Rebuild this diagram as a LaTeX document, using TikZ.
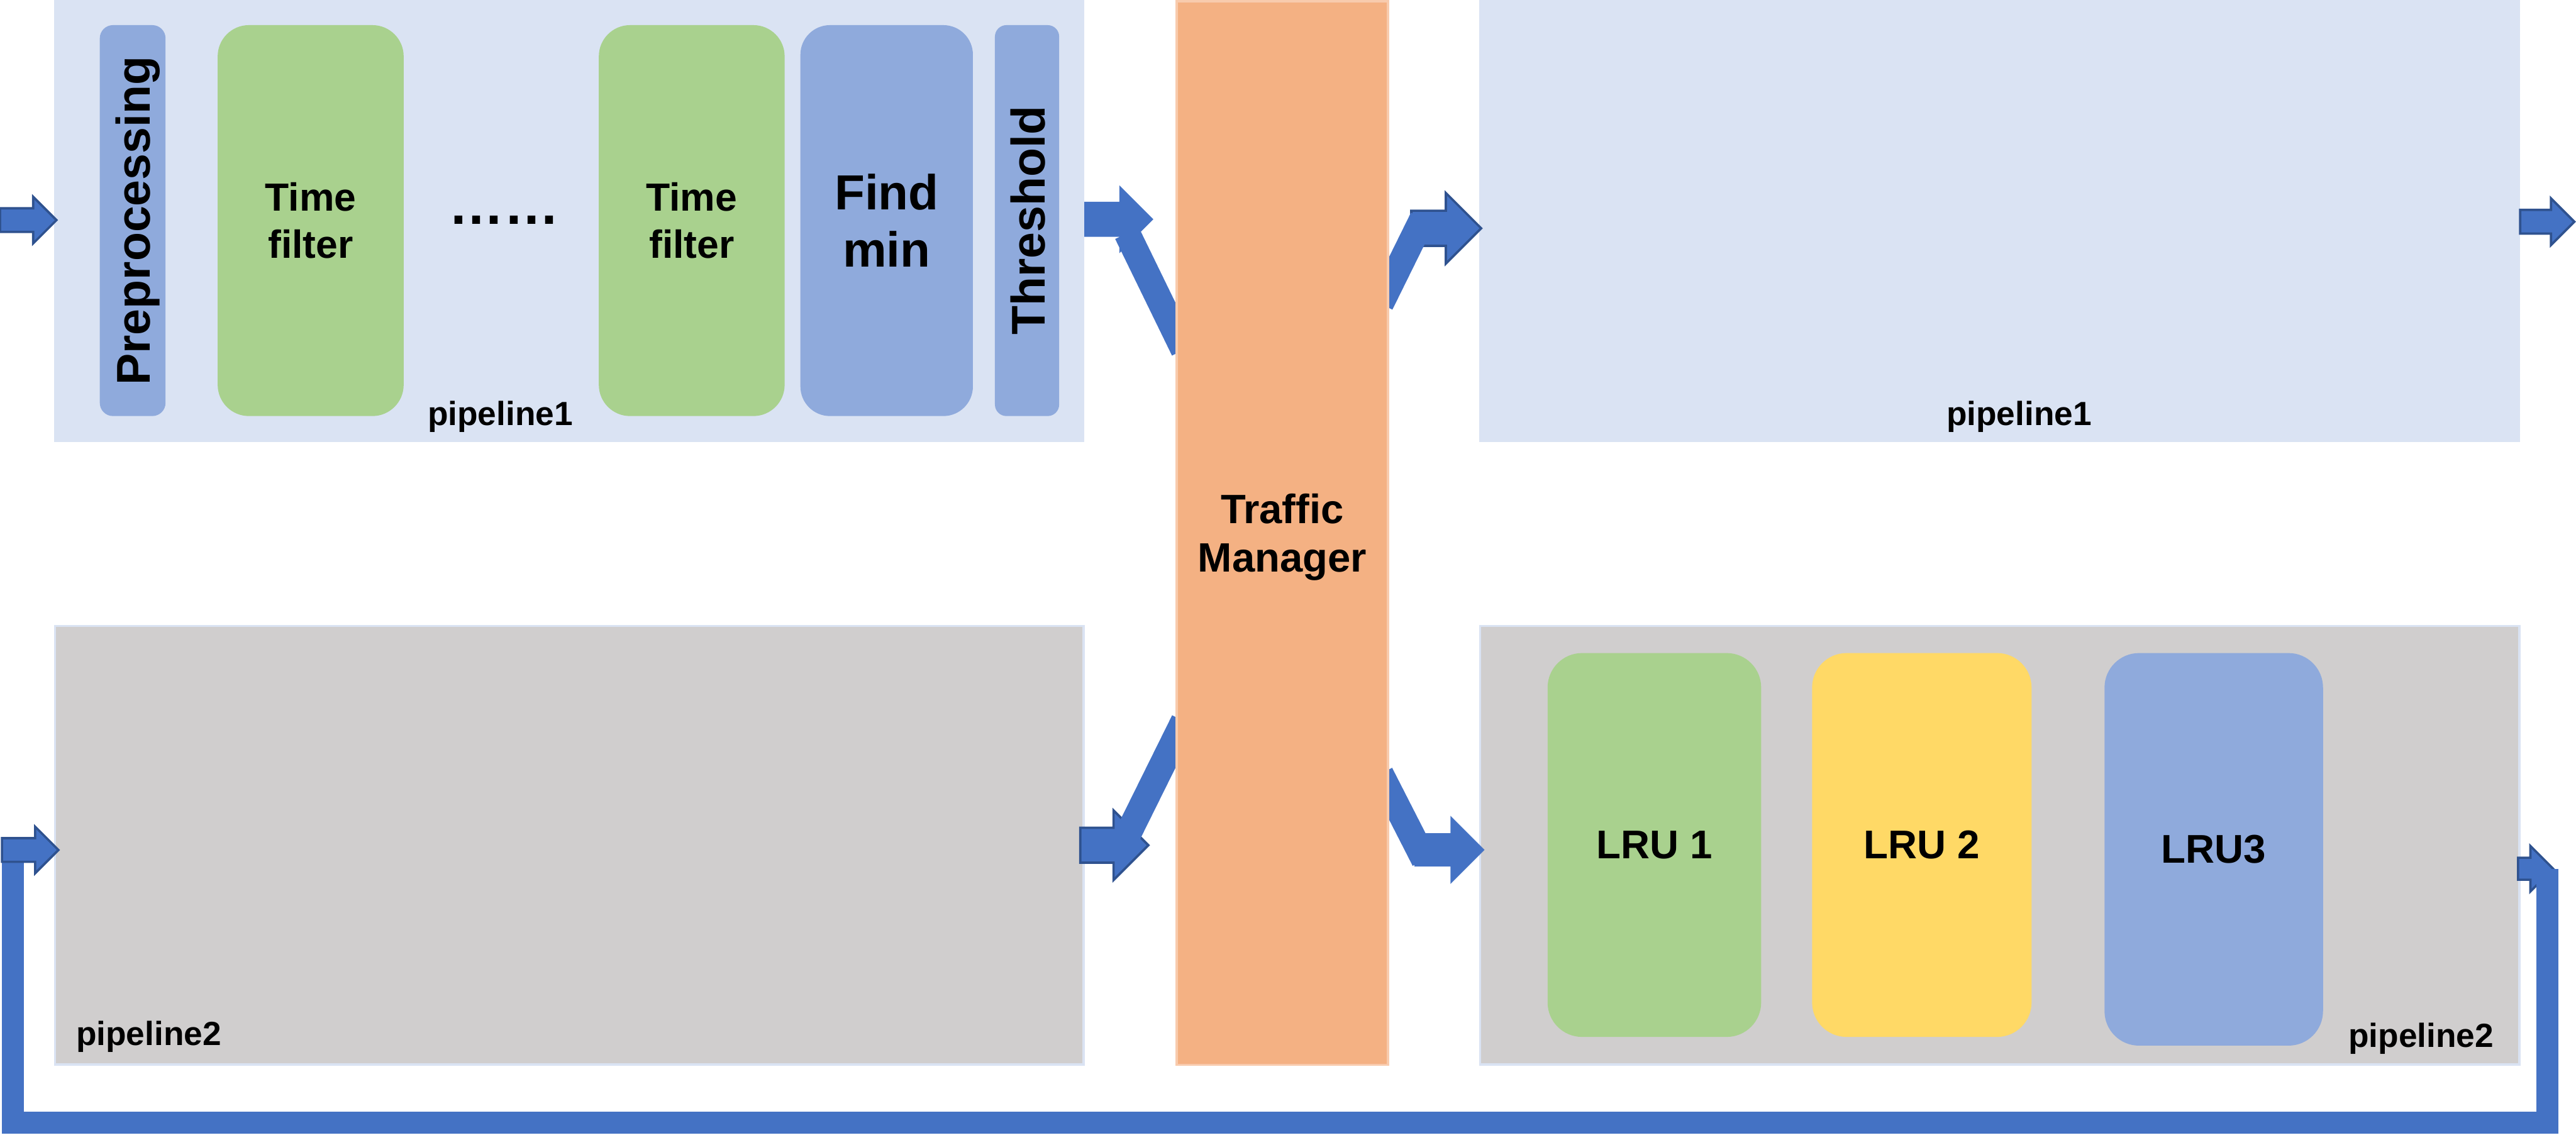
\documentclass[tikz,border=0pt]{standalone}
\usepackage{fontspec}
\setmainfont{Liberation Sans}
\usetikzlibrary{shapes.arrows}

\definecolor{paneblue}{HTML}{DAE3F3}
\definecolor{panegray}{HTML}{D0CECE}
\definecolor{stageblue}{HTML}{8FAADC}
\definecolor{stagegreen}{HTML}{A9D18E}
\definecolor{stageyellow}{HTML}{FFD966}
\definecolor{tmorange}{HTML}{F4B183}
\definecolor{tmedge}{HTML}{F8CBAD}
\definecolor{flowblue}{HTML}{4472C4}
\definecolor{flowedge}{HTML}{2F528F}

\pgfdeclarelayer{front}
\pgfsetlayers{main,front}

\tikzset{
  pane/.style={inner sep=0pt, outer sep=0pt},
  stage/.style={inner sep=0pt, outer sep=0pt, rounded corners=9.5mm, align=center},
  slim/.style={stage, rounded corners=4mm},
  vlabel/.style={rotate=90, inner sep=0pt, font=\bfseries\fontsize{41}{49}\selectfont},
  plabel/.style={inner sep=0pt, anchor=base, font=\bfseries\fontsize{29}{35}\selectfont},
  flow/.style n args={3}{single arrow, anchor=tail, fill=flowblue, inner xsep=0pt,
    inner ysep=#2, single arrow head extend=#3, minimum height=#1,
    minimum width=0pt, outer sep=0pt},
  rim/.style={draw=flowedge, line width=2pt},
  band/.style={draw=flowblue, line width=8mm},
  loopbar/.style={draw=flowblue, line width=6.75mm}
}

\begin{document}
\begin{tikzpicture}[x=0.5mm, y=-0.5mm]
  % one unit = one pixel of the sketch, y grows downwards
  \def\u{0.5mm}
  \def\sh{238}
  \useasboundingbox (0,0) rectangle (1568,697);

  % --- Pipeline panels ---
  \node[pane, fill=paneblue, minimum width=627*\u, minimum height=269*\u] (pipeA) at (346.5,134.5) {};
  \node[pane, fill=paneblue, minimum width=633.5*\u, minimum height=269*\u] (pipeB) at (1217.25,134.5) {};
  \node[pane, fill=panegray, draw=paneblue, line width=2pt, minimum width=626*\u, minimum height=267*\u] (pipeC) at (346.5,514.6) {};
  \node[pane, fill=panegray, draw=paneblue, line width=2pt, minimum width=632.5*\u, minimum height=267*\u] (pipeD) at (1217.25,514.6) {};

  % --- Stages of pipeline1 ---
  \node[slim, fill=stageblue, minimum width=40*\u, minimum height=\sh*\u] (prep) at (80.75,134.3) {};
  \node[vlabel] (prepTxt) at (83.8,134.4) {Preprocessing};
  \node[stage, fill=stagegreen, minimum width=113.2*\u, minimum height=\sh*\u,
    font=\bfseries\fontsize{34}{40.5}\selectfont] (tfA) at (189.1,134.3) {Time\\filter};
  \node[inner sep=0pt, anchor=base, font=\bfseries\fontsize{48}{56}\selectfont] (dots) at (307,136.5) {……};
  \node[stage, fill=stagegreen, minimum width=113.1*\u, minimum height=\sh*\u,
    font=\bfseries\fontsize{34}{40.5}\selectfont] (tfB) at (421.05,134.3) {Time\\filter};
  \node[stage, rounded corners=9mm, fill=stageblue, minimum width=105*\u, minimum height=\sh*\u,
    font=\bfseries\fontsize{42.7}{49.4}\selectfont] (fmin) at (539.7,134.3) {Find\\min};
  \node[slim, rounded corners=3.5mm, fill=stageblue, minimum width=39.1*\u, minimum height=\sh*\u] (thr) at (625.15,134.3) {};
  \node[vlabel] (thrTxt) at (625.6,134.2) {Threshold};

  % --- LRU stages of pipeline2 ---
  \foreach \n/\x/\y/\w/\h/\c/\t in {A/1007/514.45/130/233.7/stagegreen/LRU 1,
                                    B/1169.8/514.45/133.6/233.7/stageyellow/LRU 2,
                                    C/1347.5/517.1/133/239/stageblue/LRU3}
    \node[stage, rounded corners=10.5mm, fill=\c, minimum width=\w*\u, minimum height=\h*\u,
      font=\bfseries\fontsize{34.7}{41}\selectfont] (lru\n) at (\x,\y) {\t};

  % --- Panel labels ---
  \node[plabel] (lblA) at (304.5,259) {pipeline1};
  \node[plabel] (lblB) at (1229,259) {pipeline1};
  \node[plabel, anchor=base west] (lblC) at (46.2,636.5) {pipeline2};
  \node[plabel, anchor=base east] (lblD) at (1518,637.6) {pipeline2};

  % --- Traffic manager (kept above the bands) ---
  \begin{pgfonlayer}{front}
    \node[pane, fill=tmorange, draw=tmedge, line width=2pt, minimum width=128.6*\u, minimum height=647.6*\u] (tm) at (780.5,324.5) {};
    \node[align=center, inner sep=0pt, font=\bfseries\fontsize{35.5}{42}\selectfont] (tmTxt) at (780.5,327) {Traffic\\Manager};
  \end{pgfonlayer}

  % --- Block arrows ---
  \node[flow={17.2mm}{3.25mm}{3.5mm}, rim] (aIn) at (0,134) {};
  \node[flow={21mm}{5.25mm}{5mm}] (aTL) at (660,133.5) {};
  \node[flow={21.3mm}{5mm}{5.4mm}, rim] (aTR) at (859,139) {};
  \node[flow={16.5mm}{3.25mm}{3.5mm}, rim] (aOut) at (1534,135) {};
  \node[flow={20.7mm}{4.95mm}{5.3mm}, rim] (aBL) at (657.6,514.6) {};
  \node[flow={21.3mm}{5mm}{5.3mm}] (aBR) at (861,517.4) {};
  \node[flow={10.7mm}{3mm}{3.6mm}, rim] (aLoopR) at (1532.7,528.9) {};
  \begin{pgfonlayer}{front}
    \node[flow={17.2mm}{3.25mm}{3.5mm}, rim] (aLoopL) at (1.2,517.5) {};
  \end{pgfonlayer}

  % --- Bands into and out of the traffic manager ---
  \coordinate (jTL) at (686,142);
  \coordinate (jTR) at (866,133);
  \coordinate (jBL) at (686,509);
  \coordinate (jBR) at (867,523.5);
  \draw[band, shorten >=-5mm] (jTL) -- (tm.west |- 0,204);
  \draw[band, shorten <=-5mm] (tm.east |- 0,176) -- (jTR);
  \draw[band, shorten <=-5mm] (tm.west |- 0,448) -- (jBL);
  \draw[band, shorten <=-5mm] (tm.east |- 0,480) -- (jBR);

  % --- Feedback loop from pipeline2 back to pipeline2 ---
  \coordinate (cLoop) at (7.85,683.5);
  \draw[loopbar] ([xshift=-1.75mm]aLoopR.tip) |- (cLoop) -| ([xshift=3.3mm]aLoopL.tail);

\end{tikzpicture}
\end{document}
